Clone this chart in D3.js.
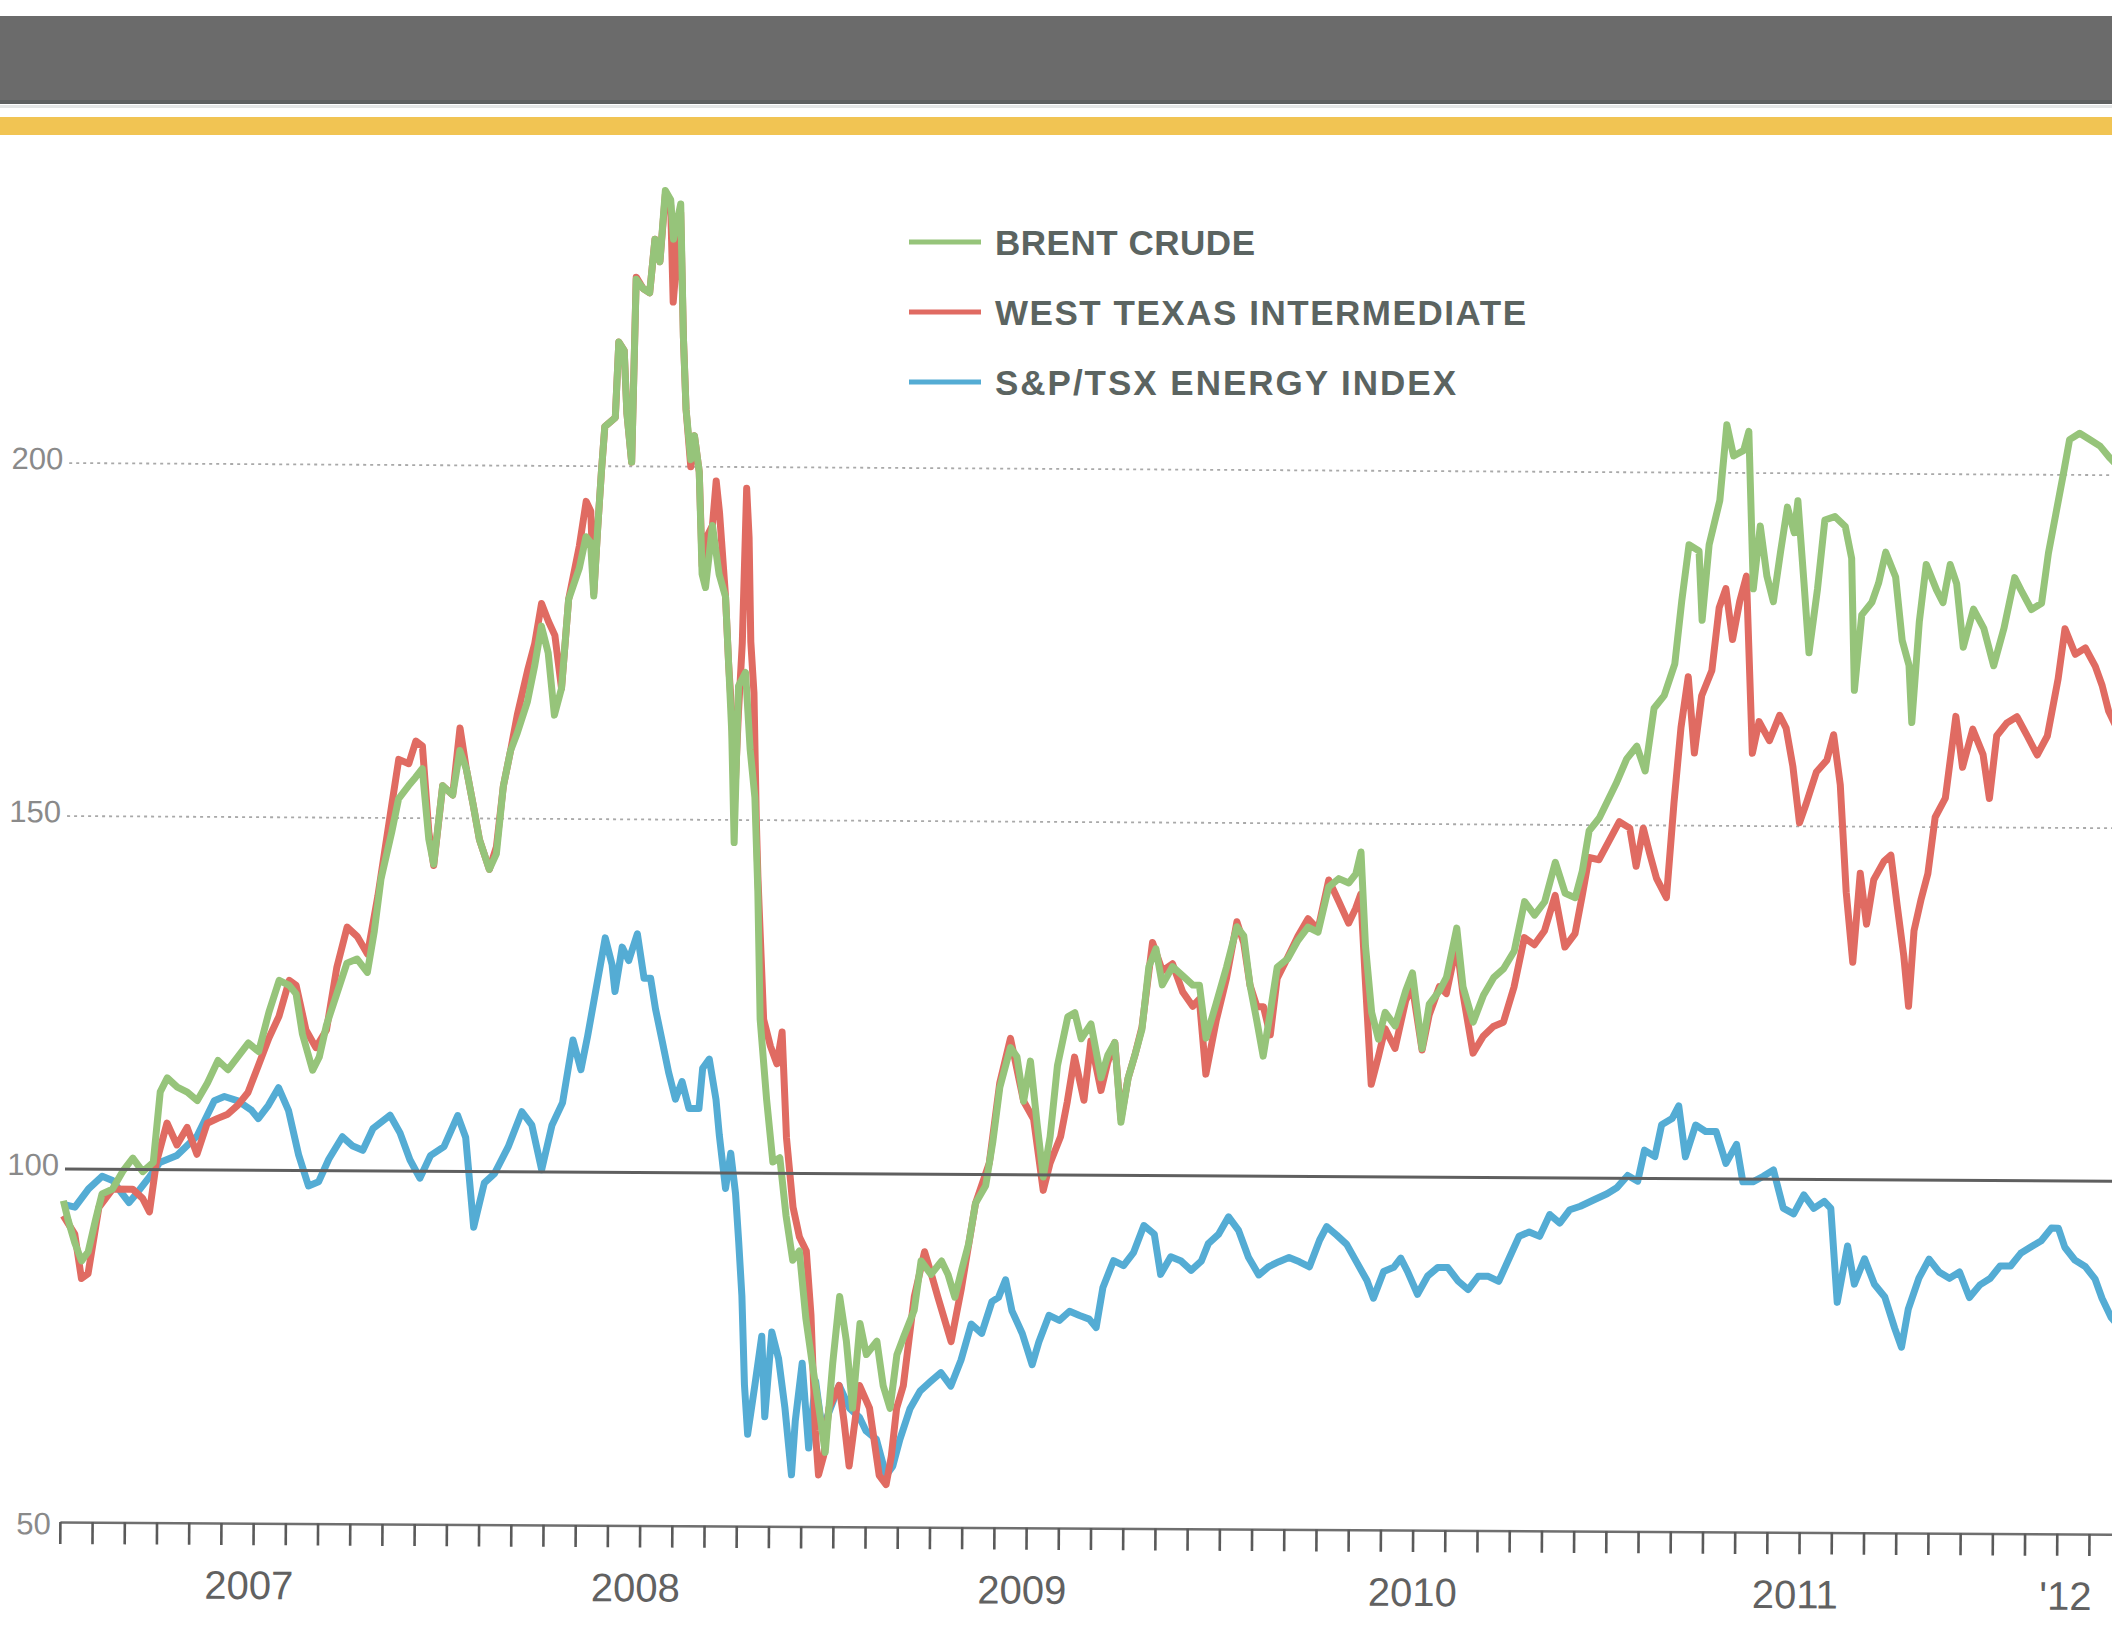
<!DOCTYPE html>
<html><head><meta charset="utf-8">
<script src="https://cdn.jsdelivr.net/npm/d3@7"></script>
<style>body{margin:0;background:#fff}svg{display:block}</style>
</head><body>
<svg id="chart" width="2112" height="1632"></svg>
<script>
// ---------- DATA (decimal year, index value) ----------
const seriesNames = ["BRENT CRUDE", "WEST TEXAS INTERMEDIATE", "S&P/TSX ENERGY INDEX"];
const seriesColors = ["#96c47a", "#e06b62", "#54acd4"];

const brent = [
[2007.004,95.5],[2007.017,92.7],[2007.034,89.6],[2007.052,87],[2007.069,88.3],[2007.087,92.7],[2007.104,96.5],[2007.131,97.2],[2007.157,99.7],[2007.183,101.6],[2007.209,99.7],[2007.236,101],[2007.253,111],[2007.271,113],[2007.297,111.7],[2007.323,111],[2007.349,109.8],[2007.375,112.3],[2007.402,115.5],[2007.428,114.2],[2007.454,116.1],[2007.480,118],[2007.507,116.8],[2007.533,122.4],[2007.559,126.9],[2007.585,126.2],[2007.603,125],[2007.620,119.3],[2007.647,114.2],[2007.664,116.1],[2007.682,120.6],[2007.708,125],[2007.734,129.4],[2007.760,130],[2007.787,128.1],[2007.804,133.8],[2007.821,141.4],[2007.848,148],[2007.865,152.7],[2007.891,154.6],[2007.909,155.8],[2007.926,157],[2007.944,147],[2007.957,143.5],[2007.979,154.6],
[2008.005,153.3],[2008.023,159.6],[2008.040,157],[2008.058,152],[2008.075,147],[2008.101,142.8],[2008.119,145],[2008.136,154.6],[2008.154,159.6],[2008.171,162.1],[2008.197,166.6],[2008.215,171.6],[2008.232,177.3],[2008.250,173.5],[2008.267,164.7],[2008.285,168.5],[2008.302,181.1],[2008.329,185.5],[2008.346,190],[2008.358,189.2],[2008.367,181.6],[2008.376,191.1],[2008.385,199.3],[2008.393,205.6],[2008.420,206.9],[2008.428,217.6],[2008.442,216.4],[2008.450,207.5],[2008.463,200.6],[2008.472,226.5],[2008.490,225.2],[2008.507,224.6],[2008.520,232.2],[2008.533,229],[2008.546,239.1],[2008.560,237.8],[2008.568,232.2],[2008.586,237.2],[2008.595,218.3],[2008.603,208.1],[2008.616,201],[2008.625,204.4],[2008.638,199.3],[2008.647,184.8],[2008.656,182.9],[2008.673,191.7],[2008.691,184.8],[2008.708,181.6],[2008.717,172.1],[2008.726,162.6],[2008.734,146.8],[2008.743,169],[2008.761,170.9],[2008.774,160],[2008.787,153.2],[2008.796,140],[2008.804,121.8],[2008.822,110.4],[2008.839,101.6],[2008.857,102.2],[2008.874,94],[2008.892,87.7],[2008.909,89],[2008.927,79.4],[2008.944,73.1],[2008.962,66.8],[2008.979,60.5],[2008.997,73.1],
[2009.014,82.6],[2009.032,76.3],[2009.049,66.8],[2009.067,78.8],[2009.084,74.4],[2009.111,76.3],[2009.128,70],[2009.146,66.8],[2009.163,74.4],[2009.180,76.9],[2009.207,80.7],[2009.224,87.7],[2009.250,85.8],[2009.277,87.7],[2009.294,85.8],[2009.312,82.6],[2009.329,86.4],[2009.347,90.2],[2009.364,95.9],[2009.390,98.4],[2009.408,104.7],[2009.425,112.3],[2009.452,118],[2009.469,116.7],[2009.487,110.4],[2009.504,116.1],[2009.522,107.3],[2009.539,99.7],[2009.556,105.4],[2009.574,115.5],[2009.600,122.4],[2009.618,123],[2009.635,119.3],[2009.660,121.4],[2009.687,113.8],[2009.704,117],[2009.722,118.8],[2009.739,107.5],[2009.757,113.8],[2009.774,117],[2009.792,120.7],[2009.809,129.6],[2009.827,132.1],[2009.844,127],[2009.870,129.6],[2009.897,128.3],[2009.923,127],[2009.940,127],[2009.958,119.5],[2009.984,124.5],
[2010.010,129.6],[2010.036,135.3],[2010.054,134],[2010.071,127],[2010.089,122],[2010.106,117],[2010.124,123.3],[2010.141,129.6],[2010.168,130.8],[2010.194,133.4],[2010.220,135.3],[2010.246,134.6],[2010.273,141],[2010.299,142.2],[2010.325,141.6],[2010.343,142.9],[2010.356,146],[2010.369,132.7],[2010.386,123.3],[2010.404,119.5],[2010.421,123.3],[2010.447,121.4],[2010.474,126.4],[2010.491,128.9],[2010.517,118.2],[2010.535,124.5],[2010.561,126.4],[2010.579,128.3],[2010.605,135.3],[2010.622,127],[2010.649,122],[2010.675,125.8],[2010.701,128.3],[2010.727,129.6],[2010.754,132.1],[2010.780,139.1],[2010.806,137.2],[2010.832,139.1],[2010.859,144.7],[2010.885,140.3],[2010.911,139.7],[2010.929,143.5],[2010.946,149.2],[2010.972,151],
[2011.015,155.9],[2011.042,159.4],[2011.068,161.2],[2011.090,157.7],[2011.112,166.6],[2011.138,168.4],[2011.165,172.9],[2011.182,181.8],[2011.200,189.8],[2011.226,188.9],[2011.235,179.1],[2011.252,189.8],[2011.279,196.1],[2011.296,206.8],[2011.314,202.4],[2011.340,203.2],[2011.353,205.9],[2011.367,183.6],[2011.384,192.5],[2011.402,185.4],[2011.419,181.8],[2011.437,188.9],[2011.454,195.2],[2011.472,191.6],[2011.481,196.1],[2011.498,184.5],[2011.512,174.6],[2011.533,183.6],[2011.551,193.4],[2011.577,193.9],[2011.604,192.5],[2011.621,188],[2011.630,169.3],[2011.648,180],[2011.674,181.8],[2011.691,184.5],[2011.709,188.9],[2011.735,185.4],[2011.753,176.4],[2011.771,172.9],[2011.779,164.8],[2011.797,179.1],[2011.814,187.2],[2011.841,183.6],[2011.858,181.8],[2011.876,187.2],[2011.893,184.5],[2011.911,175.5],[2011.937,180.9],[2011.964,178.2],[2011.990,172.9],
[2012.016,178.2],[2012.043,185.4],[2012.060,183.6],[2012.087,180.9],[2012.113,181.8],[2012.130,188.9],[2012.148,194.3],[2012.166,199.7],[2012.183,205],[2012.209,205.9],[2012.236,205],[2012.262,204.1],[2012.288,202.4],[2012.304,201.5],[2012.332,200]
];

const wti = [
[2007.004,93.4],[2007.034,90.8],[2007.052,84.5],[2007.069,85.2],[2007.096,94.6],[2007.131,97.2],[2007.183,97.2],[2007.209,95.9],[2007.227,94],[2007.244,101],[2007.271,106.6],[2007.297,103.5],[2007.323,106],[2007.349,102.2],[2007.375,106.6],[2007.402,107.3],[2007.428,107.9],[2007.454,109.2],[2007.480,111],[2007.507,114.9],[2007.533,118.7],[2007.559,121.8],[2007.585,126.9],[2007.603,126.2],[2007.629,119.9],[2007.655,117.4],[2007.682,119.9],[2007.708,128.8],[2007.734,134.5],[2007.760,133.2],[2007.787,130.7],[2007.813,138.9],[2007.848,152],[2007.865,158.3],[2007.891,157.7],[2007.909,160.9],[2007.926,160.2],[2007.944,148],[2007.957,143.3],[2007.979,154.6],
[2008.005,153.3],[2008.023,162.8],[2008.040,157],[2008.058,152],[2008.075,147],[2008.101,142.8],[2008.119,146],[2008.136,154.6],[2008.154,159.6],[2008.171,164.7],[2008.197,171],[2008.215,174.8],[2008.232,180.5],[2008.250,178],[2008.267,176],[2008.285,168.5],[2008.302,181.1],[2008.329,188.7],[2008.346,195],[2008.358,193.6],[2008.367,182],[2008.376,191.1],[2008.385,199.3],[2008.393,205.6],[2008.420,206.9],[2008.428,217.6],[2008.442,216.4],[2008.450,207.5],[2008.463,200.6],[2008.472,226.8],[2008.490,225.2],[2008.507,224.6],[2008.520,232.2],[2008.533,229],[2008.546,238.5],[2008.560,237],[2008.568,223.3],[2008.586,236],[2008.595,218.3],[2008.603,208.1],[2008.616,200],[2008.625,204.4],[2008.638,199.3],[2008.647,186],[2008.656,189.8],[2008.673,191.7],[2008.682,198],[2008.691,193.6],[2008.708,181.6],[2008.717,172.1],[2008.726,165],[2008.734,152],[2008.743,165],[2008.752,175],[2008.761,197],[2008.768,190],[2008.774,175.3],[2008.783,168],[2008.791,150],[2008.796,142],[2008.813,121.8],[2008.831,118],[2008.848,115.5],[2008.861,120],[2008.874,105],[2008.892,95.2],[2008.909,91],[2008.927,89],[2008.940,80],[2008.953,63.6],[2008.962,57.3],[2008.975,60],[2008.988,66.8],
[2009.014,70],[2009.027,65],[2009.041,58.6],[2009.067,70],[2009.093,66.8],[2009.119,57.3],[2009.137,56],[2009.150,60],[2009.163,66.8],[2009.180,70],[2009.207,82.6],[2009.233,89],[2009.250,86],[2009.268,82.6],[2009.303,76.3],[2009.329,83.9],[2009.364,95.9],[2009.399,101.6],[2009.425,113],[2009.452,119.3],[2009.487,110.4],[2009.513,107.9],[2009.539,97.8],[2009.556,101.6],[2009.583,105.4],[2009.600,110.4],[2009.618,116.7],[2009.643,110.6],[2009.660,119],[2009.687,112],[2009.704,116],[2009.722,118.8],[2009.739,108],[2009.757,113.8],[2009.774,117],[2009.792,121],[2009.818,133],[2009.844,129],[2009.870,130],[2009.897,126],[2009.923,124],[2009.940,125],[2009.958,114.4],[2009.984,122],
[2010.010,128],[2010.036,136],[2010.054,133],[2010.071,127],[2010.089,124],[2010.106,124],[2010.124,120],[2010.141,128],[2010.168,131],[2010.194,134],[2010.220,136.5],[2010.246,135],[2010.273,142],[2010.299,139],[2010.325,135.9],[2010.343,138],[2010.356,140],[2010.369,128],[2010.386,113.1],[2010.404,117],[2010.421,121],[2010.447,118.2],[2010.474,125],[2010.491,127],[2010.517,118],[2010.535,123],[2010.561,127],[2010.579,126],[2010.605,133],[2010.622,126],[2010.649,117.6],[2010.675,120],[2010.701,121.4],[2010.727,122],[2010.754,127],[2010.780,134],[2010.806,133],[2010.832,135],[2010.859,140],[2010.885,132.7],[2010.911,134.6],[2010.929,140],[2010.946,145.4],[2010.972,145.1],[2010.998,147.8],
[2011.024,150.5],[2011.051,149.6],[2011.068,144.2],[2011.086,149.6],[2011.103,146],[2011.121,142.5],[2011.147,139.8],[2011.165,153.2],[2011.182,163.9],[2011.200,171.1],[2011.217,160.3],[2011.235,168.4],[2011.261,172],[2011.279,180.9],[2011.296,183.6],[2011.314,176.4],[2011.332,181.8],[2011.349,185.4],[2011.367,160.3],[2011.384,164.8],[2011.411,162.1],[2011.437,165.7],[2011.454,163.9],[2011.472,158.5],[2011.490,150.5],[2011.507,153.2],[2011.533,157.7],[2011.560,159.4],[2011.577,163],[2011.595,155.9],[2011.612,140.7],[2011.630,130.8],[2011.648,143.4],[2011.665,136.2],[2011.683,142.5],[2011.709,145.1],[2011.727,146],[2011.744,138.9],[2011.762,131.7],[2011.775,124.6],[2011.788,135.3],[2011.806,139.8],[2011.823,143.4],[2011.841,151.4],[2011.867,154.1],[2011.893,165.7],[2011.911,158.5],[2011.937,163.9],[2011.964,160.3],[2011.981,154.1],[2011.999,163],
[2012.025,164.8],[2012.051,165.7],[2012.078,163],[2012.104,160.3],[2012.130,163],[2012.157,171.1],[2012.174,178.2],[2012.201,174.6],[2012.227,175.5],[2012.253,172.9],[2012.271,170.2],[2012.288,166.6],[2012.304,164.8],[2012.332,163]
];

const tsx = [
[2007.004,95],[2007.034,94.6],[2007.069,97.2],[2007.104,99],[2007.131,98.4],[2007.157,96.5],[2007.174,95.3],[2007.192,96.5],[2007.227,99],[2007.253,101],[2007.297,102],[2007.349,104.8],[2007.393,109.8],[2007.419,110.4],[2007.454,109.8],[2007.489,108.5],[2007.507,107.3],[2007.533,109.2],[2007.559,111.7],[2007.585,108.5],[2007.612,102.2],[2007.638,97.8],[2007.664,98.4],[2007.690,101.6],[2007.725,104.8],[2007.752,103.5],[2007.778,102.9],[2007.804,106],[2007.848,107.9],[2007.874,105.4],[2007.900,101.6],[2007.926,99],[2007.953,102.2],[2007.988,103.5],
[2008.023,107.9],[2008.044,104.8],[2008.066,92.1],[2008.093,98.4],[2008.119,99.7],[2008.154,103.5],[2008.189,108.5],[2008.215,106.6],[2008.241,100.3],[2008.267,106.6],[2008.294,109.8],[2008.320,118.7],[2008.341,114.5],[2008.358,119.3],[2008.376,125],[2008.402,133.2],[2008.420,129.4],[2008.428,125.6],[2008.446,131.9],[2008.463,130],[2008.485,133.8],[2008.503,127.5],[2008.520,127.5],[2008.533,123.2],[2008.551,118.6],[2008.568,114.2],[2008.586,110.4],[2008.603,112.9],[2008.621,109.1],[2008.647,109.1],[2008.656,114.8],[2008.673,116.1],[2008.691,110.4],[2008.700,105.4],[2008.717,97.8],[2008.730,102.8],[2008.743,97.1],[2008.752,90.2],[2008.761,82.6],[2008.769,70],[2008.778,63],[2008.796,70],[2008.813,76.9],[2008.822,65.5],[2008.839,77.5],[2008.857,73.7],[2008.874,66.8],[2008.892,57.3],[2008.901,64.9],[2008.918,73.1],[2008.936,61.1],[2008.953,70.6],[2008.971,63.6],[2008.988,66.2],
[2009.014,70],[2009.041,66.8],[2009.067,65.5],[2009.084,63.6],[2009.111,62.4],[2009.137,57.3],[2009.154,58.6],[2009.172,62.4],[2009.198,66.8],[2009.224,69.3],[2009.250,70.6],[2009.277,71.9],[2009.303,70],[2009.329,73.7],[2009.355,78.8],[2009.382,77.5],[2009.408,82],[2009.425,82.6],[2009.443,85.1],[2009.460,80.7],[2009.487,77.5],[2009.513,73.1],[2009.530,76.3],[2009.556,80.1],[2009.583,79.4],[2009.609,80.7],[2009.635,80.1],[2009.660,79.6],[2009.678,78.4],[2009.695,84.1],[2009.722,87.9],[2009.748,87.2],[2009.774,89.1],[2009.800,92.9],[2009.827,91.7],[2009.844,86],[2009.870,88.5],[2009.897,87.9],[2009.923,86.6],[2009.949,87.9],[2009.967,90.4],[2009.993,91.7],
[2010.019,94.2],[2010.045,92.3],[2010.071,88.5],[2010.098,86],[2010.124,87.2],[2010.150,87.9],[2010.176,88.5],[2010.203,87.9],[2010.229,87.2],[2010.255,91],[2010.273,92.9],[2010.299,91.7],[2010.325,90.4],[2010.351,87.9],[2010.378,85.3],[2010.395,82.8],[2010.421,86.6],[2010.447,87.2],[2010.465,88.5],[2010.483,86.6],[2010.509,83.4],[2010.535,86],[2010.561,87.2],[2010.587,87.2],[2010.614,85.3],[2010.640,84.1],[2010.666,86],[2010.692,86],[2010.719,85.3],[2010.745,88.5],[2010.771,91.7],[2010.797,92.3],[2010.824,91.7],[2010.850,94.8],[2010.876,93.6],[2010.902,95.5],[2010.929,96],[2010.963,96.9],[2010.998,97.8],
[2011.024,98.7],[2011.051,100.4],[2011.077,99.6],[2011.094,104],[2011.121,103.1],[2011.138,107.6],[2011.165,108.5],[2011.182,110.3],[2011.200,103.1],[2011.226,107.6],[2011.252,106.7],[2011.279,106.7],[2011.305,102.2],[2011.332,104.9],[2011.349,99.6],[2011.375,99.6],[2011.402,100.4],[2011.428,101.3],[2011.454,95.9],[2011.481,95.1],[2011.507,97.8],[2011.533,95.9],[2011.560,96.9],[2011.577,95.9],[2011.595,82.6],[2011.621,90.6],[2011.639,85.2],[2011.665,88.8],[2011.691,85.2],[2011.718,83.4],[2011.744,79],[2011.762,76.3],[2011.779,81.7],[2011.806,86.1],[2011.832,88.8],[2011.858,87],[2011.885,86.1],[2011.911,87],[2011.937,83.4],[2011.964,85.2],[2011.990,86.1],
[2012.016,87.9],[2012.043,87.9],[2012.069,89.7],[2012.095,90.6],[2012.122,91.5],[2012.148,93.3],[2012.166,93.3],[2012.183,90.6],[2012.209,88.8],[2012.236,87.9],[2012.262,86.1],[2012.280,83.4],[2012.304,80.7],[2012.332,79]
];

const yTicks = [50, 100, 150, 200];
const gridValues = [150, 200];
const baselineValue = 100;
const yearLabels = ["2007", "2008", "2009", "2010", "2011", "'12"];
const yearLabelPos = [2007.49, 2008.49, 2009.49, 2010.5, 2011.49, 2012.19];
const monthTicks = d3.range(0, 64).map(m => 2007 + m / 12);

// ---------- DRAW ----------
const W = 2112, H = 1632;
const svg = d3.select("#chart");
svg.append("rect").attr("width", W).attr("height", H).attr("fill", "#fff");

// header bands
svg.append("rect").attr("x", 0).attr("y", 16).attr("width", W).attr("height", 88).attr("fill", "#6b6b6b");
svg.append("rect").attr("x", 0).attr("y", 100).attr("width", W).attr("height", 4).attr("fill", "#5e6060");
svg.append("rect").attr("x", 0).attr("y", 105).attr("width", W).attr("height", 3).attr("fill", "#e4e6e6");
svg.append("rect").attr("x", 0).attr("y", 117).attr("width", W).attr("height", 18).attr("fill", "#f1c453");

const x = d3.scaleLinear().domain([2007, 2012.35]).range([62, 62 + 5.35 * 386.5]);
const y = d3.scaleLinear().domain([50, 250]).range([1522, 110]);

const g = svg.append("g").attr("transform", `rotate(0.34, 62, ${y(100)})`);

// gridlines
g.selectAll("line.grid").data(gridValues).join("line")
  .attr("class", "grid")
  .attr("x1", x(2007) + 3).attr("x2", W + 40)
  .attr("y1", d => y(d)).attr("y2", d => y(d))
  .attr("stroke", "#a9a9a9").attr("stroke-width", 1.8).attr("stroke-dasharray", "3,4");

// y axis labels
const yAxis = d3.axisLeft(y).tickValues(yTicks).tickSize(0).tickPadding(3).tickFormat(d3.format("d"));
const ya = g.append("g").attr("transform", `translate(${x(2007)},0)`).call(yAxis);
ya.select(".domain").remove();
ya.selectAll("text").attr("font-family", "Liberation Sans, Arial, sans-serif")
  .attr("font-size", 31).attr("fill", "#8a8a8a").attr("dy", "0.32em")
  .attr("transform", d => d === 50 ? "translate(-6,2)" : "translate(0,-4)");

// x axis
const xAxis = d3.axisBottom(x).tickValues(monthTicks).tickSize(22).tickSizeOuter(0).tickFormat("");
const xa = g.append("g").attr("transform", `translate(0,${y(50)})`).call(xAxis);
xa.select(".domain").attr("stroke", "#6f6f6f").attr("stroke-width", 2.5);
xa.selectAll(".tick line").attr("stroke", "#5a5a5a").attr("stroke-width", 2.6);

g.selectAll("text.year").data(yearLabels).join("text")
  .attr("class", "year")
  .attr("x", (d, i) => x(yearLabelPos[i]))
  .attr("y", 1598)
  .attr("text-anchor", "middle")
  .attr("font-family", "Liberation Sans, Arial, sans-serif")
  .attr("font-size", 40).attr("fill", "#616161")
  .text(d => d);

// series lines
const line = d3.line().x(d => x(d[0])).y(d => y(d[1]));
const seriesData = [tsx, wti, brent];
const seriesCol = [seriesColors[2], seriesColors[1], seriesColors[0]];
g.selectAll("path.series").data(seriesData).join("path")
  .attr("class", "series")
  .attr("d", line)
  .attr("fill", "none")
  .attr("stroke", (d, i) => seriesCol[i])
  .attr("stroke-width", 7)
  .attr("stroke-linejoin", "round");

// baseline at 100
g.append("line")
  .attr("x1", x(2007) + 3).attr("x2", W + 40)
  .attr("y1", y(baselineValue)).attr("y2", y(baselineValue))
  .attr("stroke", "#5f5f5f").attr("stroke-width", 3);

// legend
const legendY = [242, 312, 382];
const legendW = [260, 531, 461];
const leg = svg.append("g");
seriesNames.forEach((name, i) => {
  leg.append("line").attr("x1", 909).attr("x2", 981)
    .attr("y1", legendY[i]).attr("y2", legendY[i])
    .attr("stroke", seriesColors[i]).attr("stroke-width", 5);
  leg.append("text").attr("x", 995).attr("y", legendY[i] + 13)
    .attr("font-family", "Liberation Sans, Arial, sans-serif")
    .attr("font-weight", "bold").attr("font-size", 35)
    .attr("fill", "#5b6461")
    .attr("textLength", legendW[i]).attr("lengthAdjust", "spacing")
    .text(name);
});
</script>
</body></html>
